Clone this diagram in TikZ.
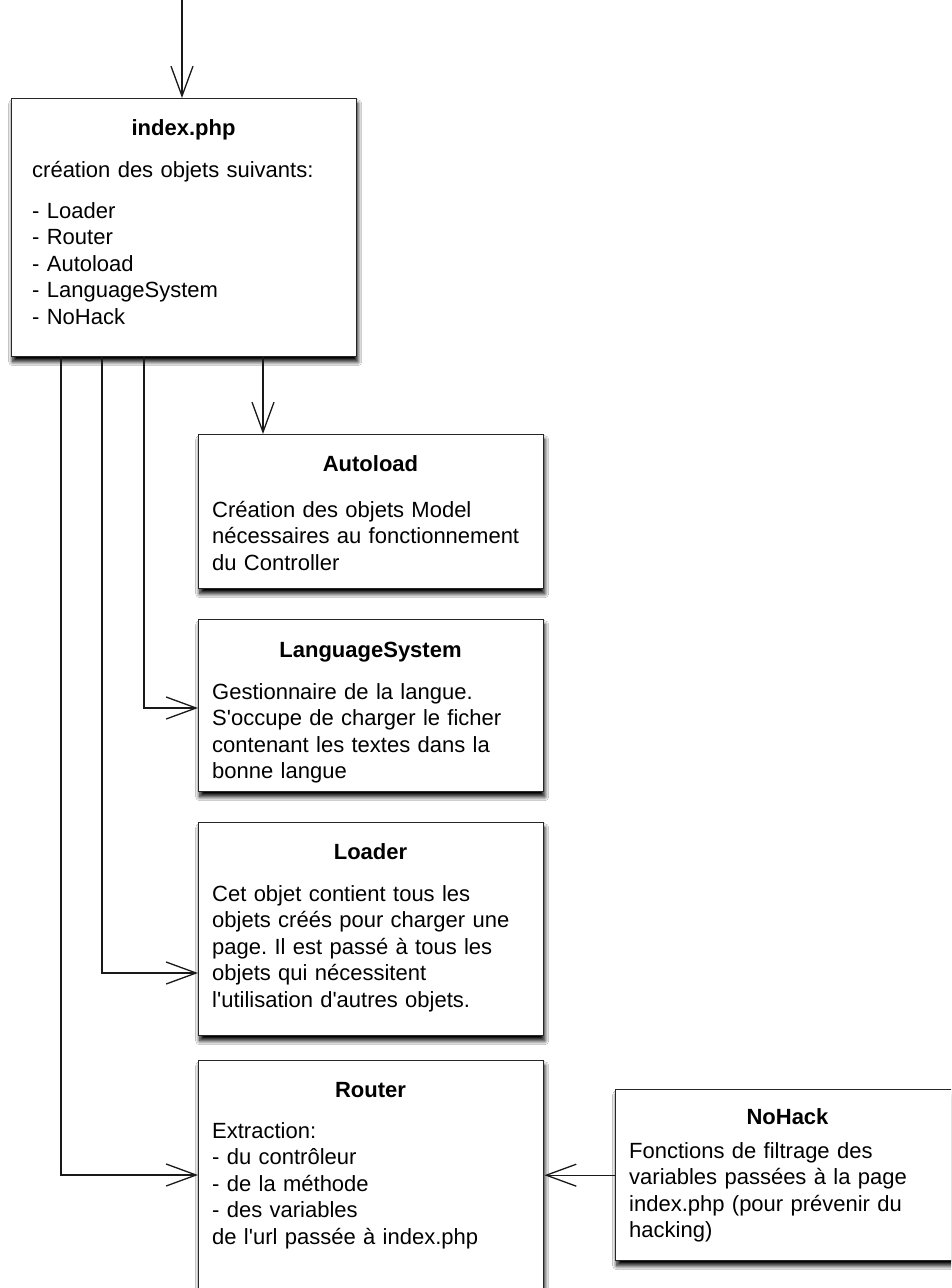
\documentclass[tikz,border=0pt]{standalone}
\usepackage{fontspec}
\setmainfont{Liberation Sans}
\usetikzlibrary{arrows.meta,shadows.blur}
\frenchspacing
\newcommand{\ap}{\textquotesingle}
\begin{document}
\begin{tikzpicture}[x=1pt,y=-1pt,
  box/.style={draw=black!85, line width=1.4pt, fill=white, minimum width=345pt,
    anchor=north west, inner sep=0pt,
    blur shadow={shadow xshift=1pt, shadow yshift=-5pt, shadow blur radius=4pt,
      shadow blur steps=12, shadow opacity=100}},
  title/.style={anchor=base, inner sep=0pt, font=\fontsize{22}{26.5}\selectfont\bfseries},
  body/.style={anchor=base west, inner sep=0pt, text width=330pt, align=left,
    font=\fontsize{22}{26.5}\selectfont},
  link/.style={draw=black!90, line width=1.3pt, -{Straight Barb[length=30pt, width=22pt]}},
]
\path[use as bounding box] (0,0) rectangle (951,1288);
\clip (0,0) rectangle (951,1288);
\fill[white] (0,0) rectangle (951,1288);

% boxes
\node[box, minimum height=258pt] (idx) at (11,98) {};
\node[title] (idxT) at (183.5,135) {index.php};
\node[body] (idxB) at (32,177) {création des objets suivants:};
\node[body] (idxL) at (32,218) {- Loader\\- Router\\- Autoload\\- LanguageSystem\\- NoHack};

\node[box, minimum height=154pt] (auto) at (198,434) {};
\node[title] (autoT) at (370.5,471) {Autoload};
\node[body] (autoB) at (212,517) {Création des objets Model\\nécessaires au fonctionnement\\du Controller};

\node[box, minimum height=172pt] (lang) at (198,619) {};
\node[title] (langT) at (370.5,657) {LanguageSystem};
\node[body] (langB) at (212,699) {Gestionnaire de la langue.\\S\ap occupe de charger le ficher\\contenant les textes dans la\\bonne langue};

\node[box, minimum height=213pt] (loader) at (198,822) {};
\node[title] (loaderT) at (370.5,859) {Loader};
\node[body] (loaderB) at (212,901) {Cet objet contient tous les\\objets créés pour charger une\\page. Il est passé à tous les\\objets qui nécessitent\\l\ap utilisation d\ap autres objets.};

\node[box, minimum height=270pt] (router) at (198,1060) {};
\node[title] (routerT) at (370.5,1097) {Router};
\node[body] (routerB) at (212,1138) {Extraction:\\- du contrôleur\\- de la méthode\\- des variables\\de l\ap url passée à index.php};

\node[box, minimum height=171pt] (nohack) at (615,1089) {};
\node[title] (nohackT) at (787.5,1124) {NoHack};
\node[body] (nohackB) at (629,1158) {Fonctions de filtrage des\\variables passées à la page\\index.php (pour prévenir du\\hacking)};

% connectors
\coordinate (entry) at (182,0);
\draw[link] (entry) -- (entry |- idx.north);
\draw[link] ([xshift=252pt]idx.south west) -- ([xshift=252pt]idx.south west |- auto.north);
\draw[link] ([xshift=133pt]idx.south west) |- ([yshift=-89pt]lang.north west);
\draw[link] ([xshift=91pt]idx.south west) |- ([yshift=-151pt]loader.north west);
\draw[link] ([xshift=50pt]idx.south west) |- ([yshift=-115pt]router.north west);
\draw[link] (nohack.west) -- (nohack.west -| router.east);
\end{tikzpicture}
\end{document}
